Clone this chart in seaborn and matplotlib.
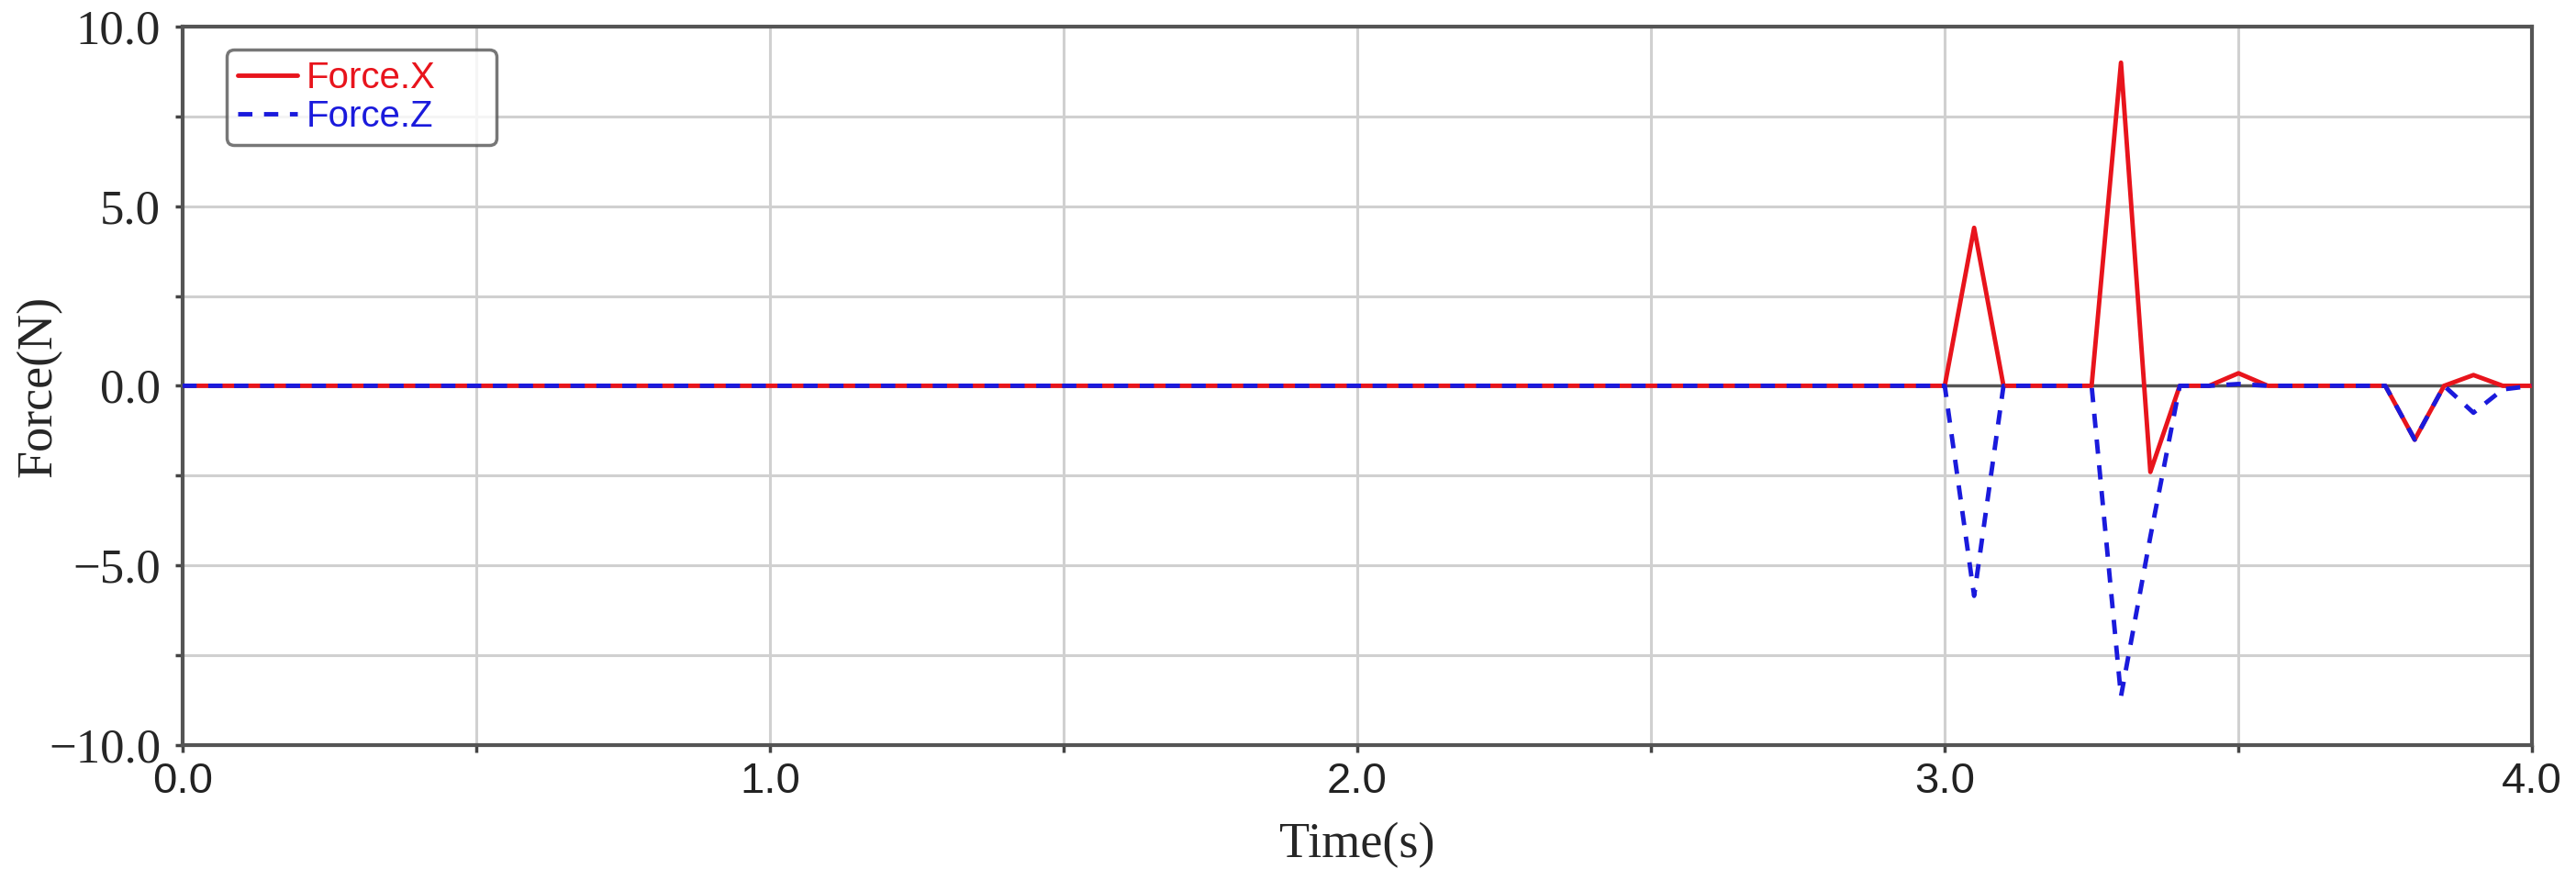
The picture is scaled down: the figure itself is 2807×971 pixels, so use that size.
""" Force vs time plot """
import pandas as pd
import seaborn as sns
import matplotlib.pyplot as plt
from matplotlib.ticker import MultipleLocator, StrMethodFormatter

# Sample times (s) where the curves change slope
time_s = [0.0, 3.0, 3.05, 3.1, 3.25, 3.3, 3.35, 3.4, 3.45, 3.5, 3.55,
          3.75, 3.8, 3.85, 3.9, 3.95, 4.0]
# Force components (N)
force_x = [0.0, 0.0, 4.4, 0.0, 0.0, 9.0, -2.4, 0.0, 0.0, 0.35, 0.0,
           0.0, -1.5, 0.0, 0.3, 0.0, 0.0]
force_z = [0.0, 0.0, -5.85, 0.0, 0.0, -8.65, -4.2, 0.0, 0.0, 0.05, 0.0,
           0.0, -1.5, 0.0, -0.75, -0.1, 0.0]

df = pd.DataFrame({"Time": time_s, "Force.X": force_x, "Force.Z": force_z})

sns.set_style("white")
plt.rcParams["font.family"] = ["Liberation Serif", "DejaVu Serif"]
plt.rcParams["axes.unicode_minus"] = True

fig, ax = plt.subplots(figsize=(28.07, 9.71), dpi=100)
fig.subplots_adjust(left=0.0708, right=0.983, top=0.970, bottom=0.164)

# zero reference line
ax.axhline(0, color="#555555", linewidth=2.5, zorder=1)

sns.lineplot(x="Time", y="Force.X", data=df, ax=ax, color="#e8141c",
             linewidth=3.5, label="Force.X", zorder=3)
sns.lineplot(x="Time", y="Force.Z", data=df, ax=ax, color="#1a1adc",
             linewidth=3.5, linestyle=(0, (3.2, 2.6)), label="Force.Z", zorder=4)

ax.set_xlim(0, 4.0)
ax.set_ylim(-10.0, 10.0)
ax.xaxis.set_major_locator(MultipleLocator(1.0))
ax.xaxis.set_minor_locator(MultipleLocator(0.5))
ax.yaxis.set_major_locator(MultipleLocator(5.0))
ax.yaxis.set_minor_locator(MultipleLocator(2.5))
ax.xaxis.set_major_formatter(StrMethodFormatter("{x:.1f}"))
ax.yaxis.set_major_formatter(StrMethodFormatter("{x:.1f}"))

ax.grid(which="both", color="#d0d0d0", linewidth=2.2, zorder=0)
ax.set_axisbelow(True)

for sp in ax.spines.values():
    sp.set_color("#555555")
    sp.set_linewidth(3)
    sp.set_visible(True)

ax.tick_params(which="both", direction="out", length=6, width=2.5,
               color="#444444", left=True, bottom=True)
ax.tick_params(axis="y", labelsize=38, pad=11)
ax.tick_params(axis="x", labelsize=34, pad=7)
# x tick labels are drawn in a sans face in the original
for lbl in ax.get_xticklabels():
    lbl.set_family("Liberation Sans")
    lbl.set_color("#222222")

ax.set_xlabel("Time(s)", fontsize=39, labelpad=16)
ax.set_ylabel("Force(N)", fontsize=39)
ax.yaxis.set_label_coords(-0.051, 0.5)

leg = ax.legend(loc="upper left", bbox_to_anchor=(0.0189, 0.838, 0.1147, 0.13),
                mode="expand",
                prop={"family": "Liberation Sans", "size": 29},
                frameon=True, fancybox=True, edgecolor="#555555",
                handlelength=1.6, handletextpad=0.25, borderpad=0.3,
                labelspacing=0.1, borderaxespad=0)
leg.get_frame().set_linewidth(2.5)
for text, col in zip(leg.get_texts(), ["#e8141c", "#1a1adc"]):
    text.set_color(col)

plt.savefig("out.png", dpi=100)
